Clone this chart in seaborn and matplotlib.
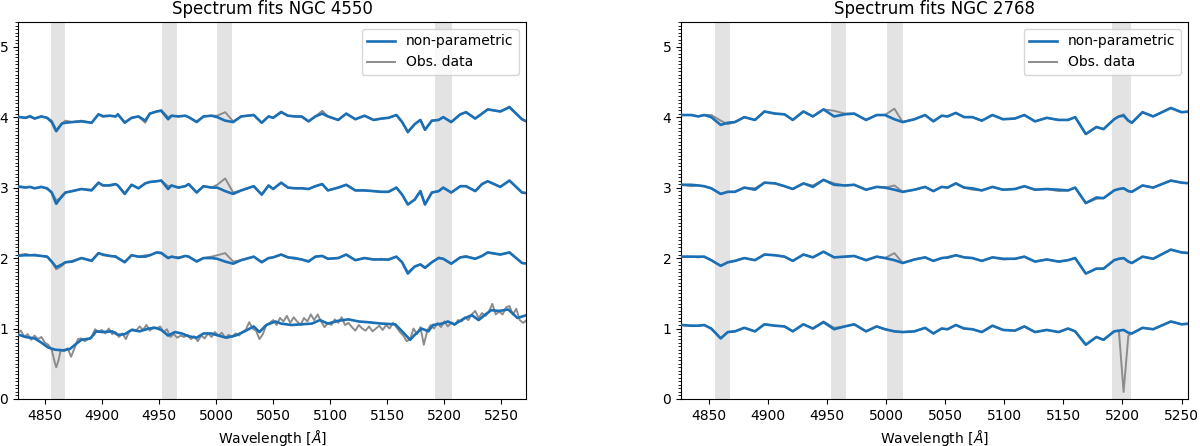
# Spectrum fits NGC 4550 / NGC 2768

import matplotlib
matplotlib.use('Agg')
import matplotlib.pyplot as plt
import seaborn as sns
from matplotlib.ticker import MultipleLocator


# Wavelength grids [A]
left_wave = [4824, 4833, 4837, 4841, 4847, 4852, 4856, 4860, 4865, 4868,
             4874, 4882, 4891, 4897, 4901, 4907, 4912, 4914, 4920, 4926,
             4932, 4938, 4942, 4948, 4952, 4958, 4961, 4967, 4973, 4976,
             4983, 4989, 4996, 5001, 5008, 5015, 5022, 5033, 5040, 5046,
             5050, 5057, 5063, 5069, 5075, 5081, 5087, 5093, 5098, 5107,
             5114, 5122, 5130, 5138, 5145, 5151, 5158, 5163, 5168, 5174,
             5179, 5183, 5189, 5195, 5199, 5206, 5214, 5219, 5227, 5233,
             5238, 5249, 5257, 5268, 5273]

# NGC 4550, non-parametric fits (offset already included)
n4550_fit_4 = [4.01, 3.99, 4.01, 3.98, 4.01, 3.99, 3.93, 3.80, 3.91, 3.92,
               3.93, 3.94, 3.92, 4.04, 4.01, 4.02, 4.01, 4.04, 3.92, 3.99,
               4.01, 3.95, 4.05, 4.08, 4.09, 3.97, 4.02, 4.01, 4.02, 4.00,
               3.93, 4.01, 4.02, 4.00, 3.95, 3.93, 4.01, 4.03, 3.92, 4.01,
               3.99, 4.07, 4.02, 4.01, 4.01, 3.94, 4.01, 4.05, 4.01, 3.96,
               4.05, 3.97, 4.02, 3.96, 3.98, 3.99, 4.03, 3.93, 3.79, 3.90,
               3.96, 3.82, 3.95, 3.96, 4.00, 3.93, 4.04, 4.07, 3.98, 4.05,
               4.11, 4.08, 4.14, 3.97, 3.93]
n4550_obs_4 = [4.01, 3.99, 4.02, 3.98, 4.01, 3.99, 3.95, 3.82, 3.91, 3.95,
               3.93, 3.95, 3.92, 4.04, 4.02, 4.02, 4.01, 4.04, 3.93, 3.99,
               4.01, 3.92, 4.05, 4.08, 4.10, 4.00, 4.02, 4.01, 4.02, 4.00,
               3.94, 4.01, 4.02, 4.02, 4.07, 3.94, 4.01, 4.03, 3.92, 4.01,
               3.99, 4.08, 4.02, 4.01, 4.00, 3.94, 4.01, 4.09, 4.01, 3.96,
               4.05, 3.97, 4.02, 3.96, 3.98, 3.99, 4.03, 3.93, 3.78, 3.90,
               3.96, 3.82, 3.95, 3.96, 4.00, 3.93, 4.04, 4.07, 3.98, 4.05,
               4.11, 4.08, 4.15, 3.97, 3.93]
n4550_fit_3 = [3.02, 3.00, 3.01, 2.99, 3.01, 2.99, 2.93, 2.77, 2.88, 2.93,
               2.95, 2.98, 2.96, 3.07, 3.03, 3.03, 3.05, 3.03, 2.91, 3.04,
               2.99, 3.06, 3.08, 3.09, 3.10, 2.98, 3.03, 3.00, 3.02, 3.05,
               2.93, 3.02, 3.00, 3.00, 2.95, 2.91, 2.96, 3.02, 2.90, 3.03,
               2.98, 3.07, 3.00, 2.99, 2.99, 2.98, 3.02, 3.05, 2.96, 3.00,
               3.04, 2.96, 2.96, 2.95, 2.94, 2.94, 3.00, 2.90, 2.76, 2.83,
               2.95, 2.76, 2.93, 2.95, 3.00, 2.93, 3.02, 3.02, 2.95, 3.05,
               3.09, 3.01, 3.10, 2.93, 2.92]
n4550_obs_3 = [3.02, 3.01, 3.01, 2.99, 3.01, 2.98, 2.94, 2.82, 2.86, 2.93,
               2.95, 2.98, 2.97, 3.07, 3.03, 3.04, 3.05, 3.03, 2.92, 3.04,
               2.99, 3.06, 3.08, 3.09, 3.10, 3.02, 3.03, 3.00, 3.02, 3.05,
               2.93, 3.02, 3.00, 3.04, 3.13, 2.93, 2.96, 3.02, 2.90, 3.03,
               2.98, 3.07, 3.00, 2.99, 2.99, 2.98, 3.02, 3.05, 2.96, 3.00,
               3.04, 2.96, 2.96, 2.95, 2.94, 2.94, 3.00, 2.90, 2.76, 2.83,
               2.95, 2.76, 2.93, 2.95, 3.00, 2.93, 3.02, 3.02, 2.95, 3.05,
               3.09, 3.01, 3.10, 2.93, 2.92]
n4550_fit_2 = [2.03, 2.04, 2.04, 2.04, 2.03, 2.02, 1.95, 1.87, 1.91, 1.94,
               1.95, 2.00, 1.96, 2.07, 2.05, 2.03, 2.02, 2.00, 1.94, 2.04,
               2.02, 2.02, 2.04, 2.08, 2.07, 2.00, 2.02, 2.00, 2.03, 2.02,
               1.95, 2.00, 2.00, 1.99, 1.95, 1.92, 1.97, 2.02, 1.94, 2.00,
               2.01, 2.05, 2.01, 2.00, 1.98, 1.95, 2.02, 2.03, 1.99, 2.00,
               2.05, 1.97, 2.00, 1.98, 1.98, 1.98, 2.02, 1.94, 1.78, 1.88,
               1.91, 1.86, 1.94, 2.00, 1.99, 1.92, 2.01, 2.02, 1.99, 2.03,
               2.08, 2.05, 2.08, 1.93, 1.92]
n4550_obs_2 = [2.03, 2.06, 2.04, 2.05, 2.03, 2.02, 1.95, 1.84, 1.89, 1.94,
               1.96, 2.00, 1.97, 2.07, 2.04, 2.03, 2.03, 2.00, 1.95, 2.04,
               2.02, 2.04, 2.04, 2.08, 2.08, 2.01, 2.02, 2.01, 2.03, 2.02,
               1.96, 2.00, 2.02, 2.04, 2.07, 1.95, 1.97, 2.02, 1.95, 2.00,
               2.01, 2.05, 2.01, 1.99, 1.98, 1.96, 2.02, 2.03, 1.99, 2.00,
               2.05, 1.97, 2.00, 1.98, 1.99, 1.97, 2.02, 1.94, 1.80, 1.88,
               1.91, 1.87, 1.94, 2.01, 1.99, 1.92, 2.01, 2.03, 1.99, 2.03,
               2.08, 2.05, 2.08, 1.93, 1.92]

# bottom NGC 4550 spectrum has its own sampling
n4550_fit_1_wave = [4824, 4833, 4841, 4847, 4853, 4859, 4866, 4872, 4878, 4882,
                    4890, 4895, 4901, 4909, 4914, 4920, 4926, 4933, 4941, 4947,
                    4952, 4958, 4964, 4970, 4976, 4983, 4989, 4996, 5002, 5009,
                    5017, 5025, 5033, 5038, 5044, 5052, 5057, 5066, 5075, 5084,
                    5091, 5098, 5107, 5116, 5125, 5133, 5145, 5157, 5163, 5170,
                    5174, 5180, 5186, 5190, 5198, 5203, 5209, 5217, 5224, 5230,
                    5236, 5241, 5248, 5256, 5264, 5272]
n4550_fit_1 = [0.93, 0.88, 0.86, 0.80, 0.73, 0.70, 0.69, 0.71, 0.79, 0.84,
               0.86, 0.96, 0.95, 0.96, 0.91, 0.92, 0.98, 0.96, 1.00, 1.01,
               0.98, 0.90, 0.95, 0.93, 0.89, 0.87, 0.93, 0.93, 0.90, 0.87,
               0.90, 0.96, 1.03, 0.95, 1.05, 1.10, 1.07, 1.05, 1.06, 1.07,
               1.12, 1.07, 1.11, 1.13, 1.10, 1.09, 1.07, 1.06, 0.96, 0.84,
               0.91, 1.00, 0.96, 1.05, 1.07, 1.10, 1.06, 1.14, 1.19, 1.12,
               1.20, 1.26, 1.25, 1.27, 1.15, 1.19]
n4550_obs_1_wave = [4825, 4829, 4832, 4835, 4838, 4841, 4844, 4847, 4850, 4853,
                    4856, 4859, 4860, 4862, 4864, 4867, 4870, 4873, 4876, 4879,
                    4882, 4885, 4888, 4891, 4894, 4897, 4900, 4903, 4906, 4909,
                    4912, 4915, 4918, 4921, 4924, 4927, 4930, 4933, 4936, 4939,
                    4942, 4945, 4948, 4951, 4954, 4957, 4960, 4963, 4966, 4969,
                    4972, 4975, 4978, 4981, 4984, 4987, 4990, 4993, 4996, 4999,
                    5002, 5005, 5008, 5011, 5014, 5017, 5020, 5023, 5026, 5029,
                    5032, 5035, 5038, 5041, 5044, 5047, 5050, 5053, 5056, 5059,
                    5062, 5065, 5068, 5071, 5074, 5077, 5080, 5083, 5086, 5089,
                    5092, 5095, 5098, 5101, 5104, 5107, 5110, 5113, 5116, 5119,
                    5122, 5125, 5128, 5131, 5134, 5137, 5140, 5143, 5146, 5149,
                    5152, 5155, 5158, 5161, 5164, 5167, 5170, 5173, 5176, 5179,
                    5182, 5185, 5188, 5191, 5194, 5197, 5200, 5203, 5206, 5209,
                    5212, 5215, 5218, 5221, 5224, 5227, 5230, 5233, 5236, 5239,
                    5242, 5245, 5248, 5251, 5254, 5257, 5260, 5263, 5266, 5269,
                    5272]
n4550_obs_1 = [0.93, 0.97, 0.88, 0.92, 0.84, 0.90, 0.85, 0.88, 0.80, 0.77,
               0.70, 0.50, 0.45, 0.55, 0.70, 0.68, 0.72, 0.60, 0.72, 0.85,
               0.86, 0.82, 0.85, 0.88, 0.99, 0.95, 0.98, 0.93, 1.00, 0.92,
               0.95, 0.88, 0.93, 0.85, 0.96, 0.99, 0.97, 1.03, 0.98, 1.05,
               0.97, 1.02, 1.00, 1.03, 0.95, 0.99, 0.88, 0.92, 0.87, 0.90,
               0.88, 0.91, 0.85, 0.89, 0.82, 0.90, 0.86, 0.93, 0.88, 0.95,
               0.90, 0.94, 0.87, 0.91, 0.88, 0.93, 0.90, 0.95, 0.98, 1.09,
               1.00, 0.97, 0.85, 0.92, 1.05, 1.08, 1.12, 1.05, 1.15, 1.10,
               1.18, 1.08, 1.16, 1.10, 1.05, 1.15, 1.10, 1.20, 1.12, 1.20,
               1.10, 1.02, 1.08, 1.05, 1.13, 1.08, 1.16, 1.05, 1.08, 1.02,
               0.97, 1.05, 1.00, 0.97, 1.03, 0.96, 1.00, 1.04, 0.98, 1.05,
               1.00, 1.08, 1.02, 0.95, 0.90, 0.82, 0.85, 1.00, 0.92, 1.02,
               0.77, 0.97, 1.05, 1.00, 1.08, 1.02, 1.10, 1.03, 1.08, 1.05,
               1.12, 1.10, 1.16, 1.12, 1.20, 1.25, 1.15, 1.22, 1.18, 1.24,
               1.35, 1.20, 1.24, 1.20, 1.30, 1.32, 1.20, 1.28, 1.12, 1.08,
               1.12]

# NGC 2768
right_wave = [4815, 4827, 4835, 4841, 4846, 4852, 4860, 4866, 4872, 4880,
              4889, 4897, 4906, 4914, 4921, 4930, 4938, 4947, 4956, 4965,
              4973, 4983, 4992, 4999, 5007, 5014, 5024, 5033, 5040, 5047,
              5052, 5059, 5066, 5073, 5081, 5090, 5099, 5109, 5117, 5126,
              5136, 5146, 5154, 5160, 5169, 5178, 5184, 5193, 5197, 5201,
              5205, 5208, 5217, 5226, 5241, 5250, 5257]
n2768_fit_4 = [4.03, 4.03, 4.03, 4.01, 4.03, 4.00, 3.89, 3.92, 3.93, 4.00,
               3.96, 4.08, 4.05, 4.04, 3.96, 4.08, 4.01, 4.11, 4.01, 4.04,
               4.05, 3.96, 4.03, 4.03, 3.97, 3.93, 3.97, 4.03, 3.94, 4.02,
               4.01, 4.06, 4.00, 4.00, 3.95, 4.03, 3.97, 3.98, 4.03, 3.94,
               3.99, 3.96, 3.96, 4.00, 3.76, 3.86, 3.83, 3.97, 4.01, 4.02,
               3.95, 3.92, 4.07, 4.01, 4.13, 4.07, 4.08]
n2768_obs_4 = [4.03, 4.03, 4.03, 4.01, 4.03, 4.03, 3.95, 3.90, 3.93, 4.00,
               3.96, 4.08, 4.05, 4.04, 3.96, 4.08, 4.01, 4.11, 4.09, 4.05,
               4.05, 3.96, 4.03, 4.03, 4.12, 3.93, 3.97, 4.03, 3.94, 4.02,
               4.01, 4.06, 4.00, 4.00, 3.95, 4.03, 3.97, 3.98, 4.03, 3.94,
               3.99, 3.96, 3.96, 4.00, 3.76, 3.86, 3.83, 3.97, 4.01, 4.04,
               3.95, 3.92, 4.07, 4.01, 4.13, 4.07, 4.08]
n2768_fit_3 = [3.05, 3.04, 3.04, 3.03, 3.02, 2.99, 2.91, 2.94, 2.94, 3.00,
               2.97, 3.07, 3.06, 3.02, 2.98, 3.06, 3.01, 3.11, 3.04, 3.03,
               3.04, 2.97, 3.01, 3.00, 2.97, 2.94, 2.97, 3.01, 2.95, 3.01,
               3.00, 3.06, 3.00, 2.99, 2.96, 3.01, 2.97, 2.98, 3.02, 2.97,
               2.98, 2.97, 2.96, 3.00, 2.78, 2.86, 2.85, 2.96, 2.98, 2.99,
               2.95, 2.94, 3.03, 3.00, 3.10, 3.07, 3.06]
n2768_obs_3 = [3.05, 3.04, 3.02, 3.03, 3.02, 2.99, 2.91, 2.94, 2.94, 3.00,
               2.99, 3.07, 3.06, 3.02, 2.98, 3.06, 3.03, 3.11, 3.06, 3.03,
               3.04, 2.97, 3.01, 3.00, 3.03, 2.94, 2.97, 3.01, 2.95, 3.01,
               3.00, 3.06, 3.00, 2.97, 2.96, 3.01, 2.97, 2.98, 3.02, 2.97,
               2.98, 2.95, 2.96, 3.00, 2.78, 2.84, 2.85, 2.96, 2.98, 2.99,
               2.95, 2.94, 3.03, 3.00, 3.10, 3.07, 3.06]
n2768_fit_2 = [2.03, 2.02, 2.02, 2.02, 2.02, 1.97, 1.89, 1.94, 1.96, 2.00,
               1.97, 2.05, 2.04, 2.02, 1.96, 2.05, 2.01, 2.09, 2.01, 2.02,
               2.03, 1.97, 2.02, 2.00, 1.97, 1.93, 1.98, 2.01, 1.96, 2.00,
               2.01, 2.04, 2.01, 2.00, 1.96, 2.01, 1.99, 1.99, 2.02, 1.95,
               1.98, 1.95, 1.97, 2.00, 1.78, 1.85, 1.85, 1.97, 1.99, 2.00,
               1.95, 1.93, 2.02, 1.99, 2.12, 2.08, 2.07]
n2768_obs_2 = [2.03, 2.02, 2.02, 2.01, 2.02, 1.97, 1.89, 1.94, 1.96, 2.00,
               1.97, 2.05, 2.04, 2.02, 1.96, 2.05, 2.01, 2.09, 2.01, 2.02,
               2.03, 1.97, 2.02, 2.00, 2.07, 1.93, 1.98, 2.01, 1.96, 2.00,
               2.00, 2.04, 2.01, 2.00, 1.96, 2.01, 1.98, 1.99, 2.02, 1.95,
               1.98, 1.95, 1.97, 2.00, 1.78, 1.85, 1.85, 1.97, 1.99, 2.00,
               1.95, 1.93, 2.02, 1.99, 2.12, 2.08, 2.07]
n2768_fit_1 = [1.06, 1.05, 1.04, 1.04, 1.05, 1.00, 0.86, 0.95, 0.96, 1.01,
               0.96, 1.06, 1.04, 1.03, 0.96, 1.06, 1.00, 1.09, 0.99, 1.03,
               1.06, 0.96, 1.03, 0.99, 0.96, 0.95, 0.96, 1.01, 0.93, 1.00,
               0.99, 1.05, 1.00, 0.99, 0.95, 1.04, 0.98, 0.97, 1.03, 0.95,
               0.98, 0.95, 1.00, 0.96, 0.77, 0.88, 0.84, 0.96, 0.97, 0.98,
               0.94, 0.93, 1.01, 0.99, 1.10, 1.06, 1.07]
n2768_obs_1 = [1.06, 1.05, 1.04, 1.04, 1.05, 1.00, 0.86, 0.95, 0.96, 1.01,
               0.96, 1.06, 1.04, 1.03, 0.96, 1.06, 1.00, 1.10, 1.01, 1.03,
               1.06, 0.96, 1.03, 0.99, 0.96, 0.95, 0.96, 1.01, 0.93, 1.00,
               0.99, 1.05, 1.00, 0.99, 0.95, 1.04, 0.98, 0.97, 1.03, 0.95,
               0.98, 0.95, 1.00, 0.96, 0.77, 0.88, 0.84, 0.96, 0.97, 0.10,
               0.90, 0.93, 1.01, 0.99, 1.10, 1.06, 1.07]

# masked wavelength windows (grey bands)
mask_lo = [4855.5, 4953, 5001, 5191.5]
mask_hi = [4868, 4966, 5014, 5207]

fit_color = '#1a6fb5'
obs_color = '#8c8c8c'


def draw_panel(ax, title, fits, obs, xlim):
    for lo, hi in zip(mask_lo, mask_hi):
        ax.axvspan(lo, hi, color='#e3e3e3', lw=0, zorder=0)
    for i, (w, f) in enumerate(fits):
        sns.lineplot(x=w, y=f, ax=ax, color=fit_color, linewidth=1.9,
                     estimator=None, sort=False, zorder=3,
                     label='non-parametric' if i == 0 else None)
    for i, (w, f) in enumerate(obs):
        sns.lineplot(x=w, y=f, ax=ax, color=obs_color, linewidth=1.4,
                     estimator=None, sort=False, zorder=2,
                     label='Obs. data' if i == 0 else None)
    for line in ax.get_lines():
        line.set_solid_joinstyle('round')
    ax.set_xlim(*xlim)
    ax.set_ylim(0, 5.35)
    ax.xaxis.set_major_locator(MultipleLocator(50))
    ax.yaxis.set_major_locator(MultipleLocator(1))
    ax.yaxis.set_minor_locator(MultipleLocator(0.05))
    ax.tick_params(labelsize=10)
    ax.tick_params(axis='y', which='minor', length=2)
    ax.set_title(title, fontsize=12)
    ax.set_xlabel(r'Wavelength [$\AA$]', fontsize=10)
    ax.set_ylabel('')
    ax.legend(loc='upper right', fontsize=10)


fig = plt.figure(figsize=(12, 4.46), dpi=100)
ax1 = fig.add_axes([18 / 1200, 47 / 446, 508 / 1200, 377 / 446])
ax2 = fig.add_axes([681 / 1200, 47 / 446, 507 / 1200, 377 / 446])

draw_panel(ax1, 'Spectrum fits NGC 4550',
           [(left_wave, n4550_fit_4), (left_wave, n4550_fit_3),
            (left_wave, n4550_fit_2), (n4550_fit_1_wave, n4550_fit_1)],
           [(left_wave, n4550_obs_4), (left_wave, n4550_obs_3),
            (left_wave, n4550_obs_2), (n4550_obs_1_wave, n4550_obs_1)],
           (4826.5, 5271.5))
draw_panel(ax2, 'Spectrum fits NGC 2768',
           [(right_wave, n2768_fit_4), (right_wave, n2768_fit_3),
            (right_wave, n2768_fit_2), (right_wave, n2768_fit_1)],
           [(right_wave, n2768_obs_4), (right_wave, n2768_obs_3),
            (right_wave, n2768_obs_2), (right_wave, n2768_obs_1)],
           (4826.4, 5255.5))

fig.savefig('out.png', dpi=100)
